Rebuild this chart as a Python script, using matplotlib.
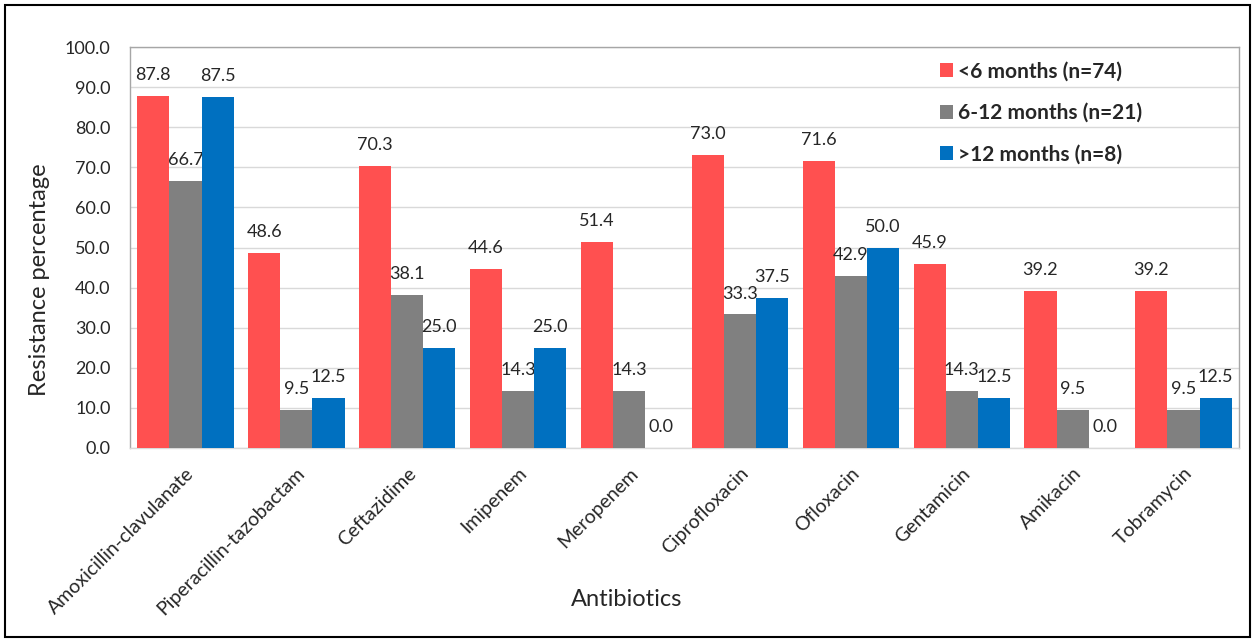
import matplotlib
matplotlib.use("Agg")
import matplotlib.pyplot as plt
import numpy as np
from matplotlib.patches import Patch, Rectangle

plt.rcParams['font.family'] = ['Lato', 'DejaVu Sans']

antibiotics = ["Amoxicillin-clavulanate", "Piperacillin-tazobactam", "Ceftazidime",
               "Imipenem", "Meropenem", "Ciprofloxacin", "Ofloxacin", "Gentamicin",
               "Amikacin", "Tobramycin"]
series_names = ["<6 months (n=74)", "6-12 months (n=21)", ">12 months (n=8)"]
under_6 = [87.8, 48.6, 70.3, 44.6, 51.4, 73.0, 71.6, 45.9, 39.2, 39.2]
m6_12 = [66.7, 9.5, 38.1, 14.3, 14.3, 33.3, 42.9, 14.3, 9.5, 9.5]
over_12 = [87.5, 12.5, 25.0, 25.0, 0.0, 37.5, 50.0, 12.5, 0.0, 12.5]
y_ticks = [0, 10, 20, 30, 40, 50, 60, 70, 80, 90, 100]

colors = ["#FF5050", "#808080", "#0070C0"]
text_color = "#262626"

W, H = 1253, 641
fig = plt.figure(figsize=(W / 100, H / 100), dpi=100)
ax = fig.add_axes([130 / W, 1 - 448 / H, (1239 - 130) / W, (448 - 47) / H])

x = np.arange(len(antibiotics))
width = 0.29
for i, (vals, col) in enumerate(zip([under_6, m6_12, over_12], colors)):
    pos = x + (i - 1) * width
    ax.bar(pos, vals, width=width, color=col, zorder=3)
    for px, v in zip(pos, vals):
        ax.annotate(f"{v:.1f}", (px, v), xytext=(0, 15), textcoords="offset points",
                    ha="center", va="center", fontsize=13, color=text_color)

ax.set_xlim(-0.5, len(antibiotics) - 0.5)
ax.set_ylim(0, 100)
ax.set_yticks(y_ticks)
ax.set_yticklabels([f"{t:.1f}" for t in y_ticks], fontsize=13, color=text_color)
ax.set_xticks(x)
ax.set_xticklabels(antibiotics, rotation=45, ha="right", va="top",
                   rotation_mode="anchor", fontsize=14, color=text_color)
ax.tick_params(axis="both", length=0)
ax.tick_params(axis="y", pad=14)
ax.tick_params(axis="x", pad=12)
ax.grid(axis="y", color="#D9D9D9", lw=1, zorder=0)
for side in ["top", "left", "right"]:
    ax.spines[side].set_color("#A6A6A6")
    ax.spines[side].set_linewidth(1)
ax.spines["bottom"].set_color("#D9D9D9")
ax.spines["bottom"].set_linewidth(1)

fig.text(0.5, 1 - 600 / H, "Antibiotics", ha="center", va="center",
         fontsize=17, color=text_color)
fig.text(40 / W, 1 - 280 / H, "Resistance percentage", ha="center", va="center",
         rotation=90, fontsize=17, color=text_color)

handles = [Patch(facecolor=c, edgecolor="none") for c in colors]
leg = fig.legend(handles, series_names, loc="upper left",
                 bbox_to_anchor=(921 / W, 1 - 43 / H), frameon=False,
                 prop={"weight": "bold", "size": 15}, handlelength=0.65,
                 handleheight=0.65, handletextpad=0.25, labelspacing=1.02)
for t in leg.get_texts():
    t.set_color(text_color)

fig.patches.append(Rectangle((5 / W, 4 / H), (1250 - 5) / W, (636 - 4) / H,
                             transform=fig.transFigure, fill=False,
                             edgecolor="black", lw=1.5))

fig.savefig("out.png", dpi=100)
